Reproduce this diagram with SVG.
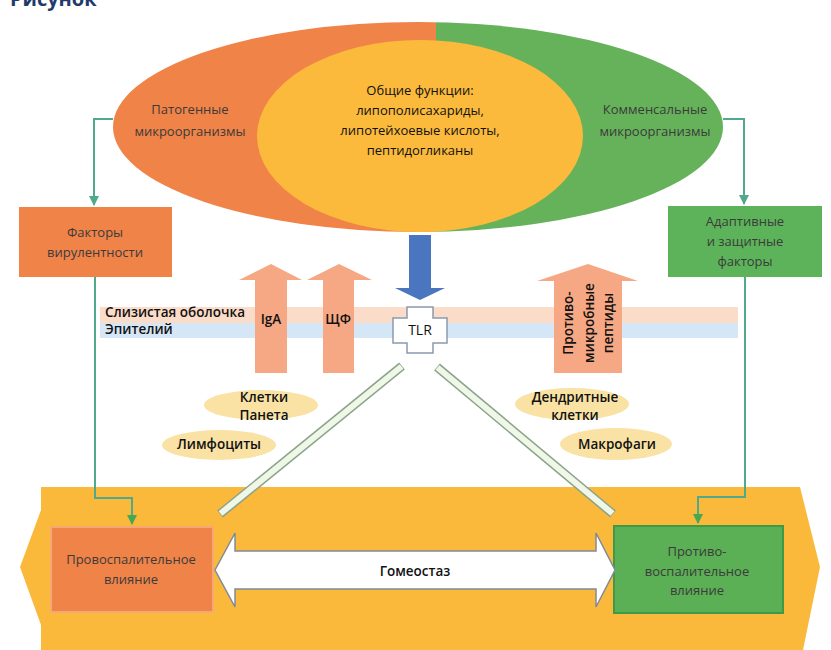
<svg xmlns="http://www.w3.org/2000/svg" width="831" height="650" viewBox="0 0 831 650">
<defs>
<linearGradient id="outerFill" gradientUnits="userSpaceOnUse" x1="113" y1="0" x2="723" y2="0">
<stop offset="0" stop-color="#F08348"/>
<stop offset="0.53" stop-color="#F08348"/>
<stop offset="0.53" stop-color="#66B25A"/>
<stop offset="1" stop-color="#66B25A"/>
</linearGradient>
<marker id="arr" viewBox="0 0 10 10" refX="9" refY="5" markerWidth="5" markerHeight="5" orient="auto">
<path d="M0,0 L10,5 L0,10 z" fill="#4FA98A"/>
</marker>
<marker id="arrG" viewBox="0 0 10 10" refX="9" refY="5" markerWidth="5" markerHeight="5" orient="auto">
<path d="M0,0 L10,5 L0,10 z" fill="#45A853"/>
</marker>
</defs>
<style>
text{font-family:"Open Sans","Liberation Sans",sans-serif;}
.lbl{font-size:13px;fill:#3b3b3b;text-anchor:middle;}
.blk{font-size:13.5px;font-weight:600;fill:#111;}
.mid{text-anchor:middle;}
.conn{fill:none;stroke:#4FA98A;stroke-width:2;}
.up{fill:#F5A883;}
.cell{fill:#FAE2A4;}
.diag1{stroke:#8AA488;stroke-width:9;}
.diag2{stroke:#F1F7E8;stroke-width:6;}
</style>
<rect width="831" height="650" fill="#ffffff"/>
<text x="10" y="6" font-size="20" font-weight="700" fill="#1F3A6B">Рисунок</text>

<g id="bottom-area">
<polygon points="41,487 800,487 820,567 803,650 41,650 41,625 20,567 41,510" fill="#FBB93B"/>
</g>

<g id="microbes">
<ellipse cx="418" cy="127" rx="305" ry="105" fill="url(#outerFill)"/>
<ellipse cx="420" cy="136" rx="163" ry="96" fill="#FBBA3C"/>
<text class="lbl" font-size="13.5" fill="#4A3428" x="190" y="114">Патогенные</text>
<text class="lbl" font-size="13.5" fill="#4A3428" x="190" y="136">микроорганизмы</text>
<text class="mid" font-size="13" fill="#111" x="420" y="95">Общие функции:</text>
<text class="mid" font-size="13" fill="#111" x="420" y="115">липополисахариды,</text>
<text class="mid" font-size="13" fill="#111" x="420" y="135">липотейхоевые кислоты,</text>
<text class="mid" font-size="13" fill="#111" x="420" y="155">пептидогликаны</text>
<text class="lbl" font-size="13.5" fill="#2F3A2A" x="655" y="114">Комменсальные</text>
<text class="lbl" font-size="13.5" fill="#2F3A2A" x="655" y="136">микроорганизмы</text>
</g>

<g id="bands">
<rect x="100" y="307" width="638" height="16" fill="#FBDCC8"/>
<rect x="100" y="323" width="638" height="15" fill="#D5E7F6"/>
<text class="blk" font-size="13" x="105" y="317">Слизистая оболочка</text>
<text class="blk" font-size="13" x="105" y="334">Эпителий</text>
</g>

<g id="virulence">
<rect x="19" y="207" width="153" height="70" fill="#F08348"/>
<text class="lbl" fill="#4A3428" x="95" y="237">Факторы</text>
<text class="lbl" fill="#4A3428" x="95" y="257">вирулентности</text>
</g>

<g id="adaptive">
<rect x="668" y="206" width="154" height="71" fill="#5DB35A"/>
<text class="lbl" fill="#2A3A28" x="745" y="226">Адаптивные</text>
<text class="lbl" fill="#2A3A28" x="745" y="246">и защитные</text>
<text class="lbl" fill="#2A3A28" x="745" y="266">факторы</text>
</g>

<g id="iga">
<polygon class="up" points="271,264 302,280 287,280 287,373 255,373 255,280 239,280"/>
<text class="blk mid" x="271" y="324">IgA</text>
</g>
<g id="shf">
<polygon class="up" points="339,264 372,280 354,280 354,373 323,373 323,280 307,280"/>
<text class="blk mid" x="338" y="324">ЩФ</text>
</g>
<g id="antimicrobial">
<polygon class="up" points="588,264 638,281 622,281 622,373 554,373 554,281 537,281"/>
<text class="blk mid" font-size="13" transform="translate(573,323) rotate(-90)">Противо-</text>
<text class="blk mid" font-size="13" transform="translate(594,323) rotate(-90)">микробные</text>
<text class="blk mid" font-size="13" fill="#333" transform="translate(613,323) rotate(-90)">пептиды</text>
</g>

<g id="signal">
<polygon points="409,235 431,235 431,288 445,288 420,300 395,288 409,288" fill="#4A76C0"/>
</g>

<g id="tlr">
<polygon points="407,307 433,307 433,318 447,318 447,343 433,343 433,353 407,353 407,343 393,343 393,318 407,318" fill="#ffffff" stroke="#8B9AAE" stroke-width="1.5"/>
<text class="mid" font-size="14" fill="#111" x="420" y="335">TLR</text>
</g>

<g id="paneth">
<ellipse class="cell" cx="261" cy="405" rx="57" ry="15"/>
<text class="blk mid" x="264" y="402">Клетки</text>
<text class="blk mid" x="264" y="420">Панета</text>
</g>
<g id="lymph">
<ellipse class="cell" cx="219" cy="445" rx="57" ry="15"/>
<text class="blk mid" x="219" y="449">Лимфоциты</text>
</g>
<g id="dendritic">
<ellipse class="cell" cx="572" cy="404" rx="57" ry="16"/>
<text class="blk mid" x="575" y="402">Дендритные</text>
<text class="blk mid" x="575" y="420">клетки</text>
</g>
<g id="macro">
<ellipse class="cell" cx="616" cy="444" rx="56" ry="16"/>
<text class="blk mid" x="617" y="449">Макрофаги</text>
</g>

<g id="proinflam">
<rect x="51" y="527" width="162" height="85" fill="#F08348" stroke="#F6A874" stroke-width="2"/>
<text class="lbl" fill="#4A3428" x="131" y="564">Провоспалительное</text>
<text class="lbl" fill="#4A3428" x="131" y="584">влияние</text>
</g>
<g id="antiinflam">
<rect x="614" y="526" width="169" height="87" fill="#5BAF55" stroke="#3F9A48" stroke-width="2"/>
<text class="lbl" fill="#2A3A28" x="697" y="556">Противо-</text>
<text class="lbl" fill="#2A3A28" x="697" y="576">воспалительное</text>
<text class="lbl" fill="#2A3A28" x="697" y="595">влияние</text>
</g>

<g id="homeostasis">
<polygon points="215,570 235,533 235,551 596,551 596,533 615,570 596,607 596,589 235,589 235,607" fill="#ffffff" stroke="#7F8A99" stroke-width="1.5"/>
<text class="blk mid" x="415" y="576">Гомеостаз</text>
</g>

<g id="connectors">
<polyline class="conn" points="113,119 94,119 94,205" marker-end="url(#arr)"/>
<polyline class="conn" points="723,119 744,119 744,204" marker-end="url(#arr)"/>
<polyline class="conn" points="95,277 95,498 132,498 132,524" marker-end="url(#arrG)"/>
<polyline class="conn" points="745,277 745,497 698,497 698,523" marker-end="url(#arrG)"/>
<line class="diag1" x1="402" y1="366" x2="220" y2="514"/>
<line class="diag2" x1="401.5" y1="366.5" x2="220.5" y2="513.5"/>
<line class="diag1" x1="437" y1="367" x2="613" y2="514"/>
<line class="diag2" x1="437.5" y1="367.5" x2="612.5" y2="513.5"/>
</g>
</svg>
